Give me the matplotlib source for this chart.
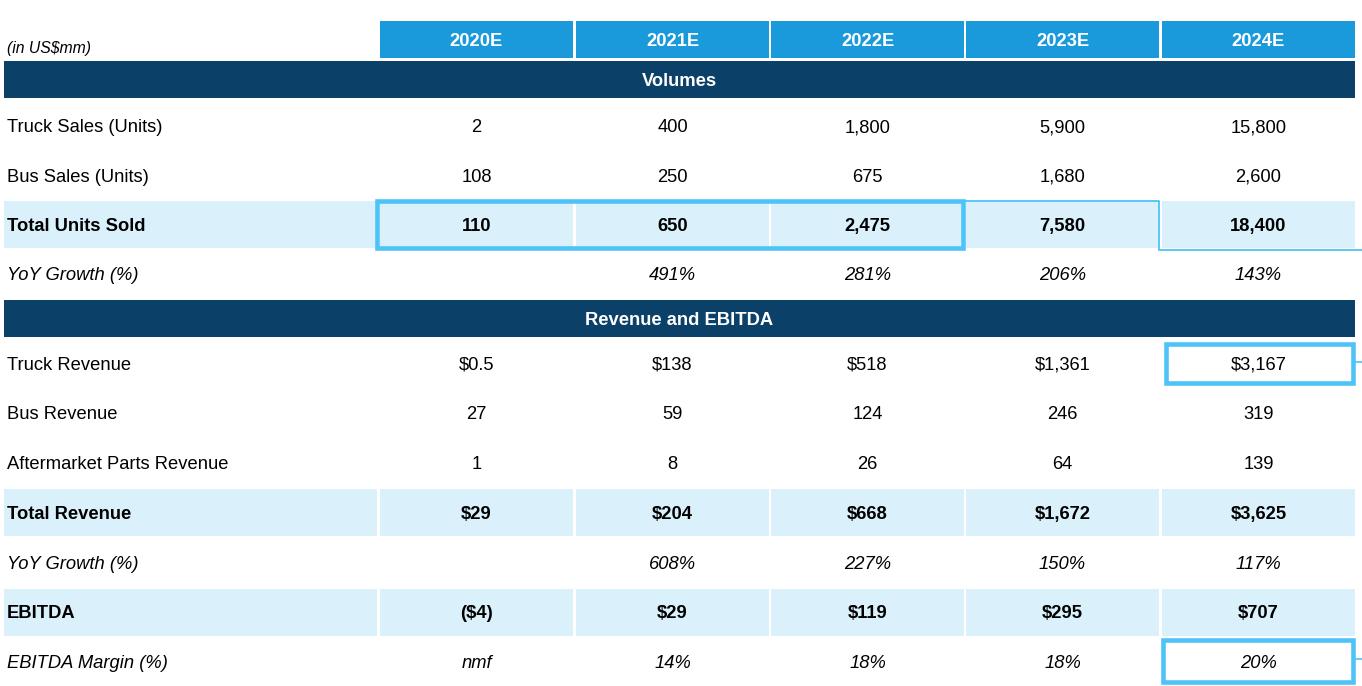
import matplotlib.pyplot as plt
from matplotlib.patches import Rectangle

plt.rcParams['font.family'] = ['Liberation Sans', 'DejaVu Sans']

# ---- data ----
years = ["2020E", "2021E", "2022E", "2023E", "2024E"]

truck_units = [2, 400, 1800, 5900, 15800]
bus_units = [108, 250, 675, 1680, 2600]
total_units = [110, 650, 2475, 7580, 18400]
units_growth = [None, 491, 281, 206, 143]

truck_rev = [0.5, 138, 518, 1361, 3167]
bus_rev = [27, 59, 124, 246, 319]
parts_rev = [1, 8, 26, 64, 139]
total_rev = [29, 204, 668, 1672, 3625]
rev_growth = [None, 608, 227, 150, 117]
ebitda = [-4, 29, 119, 295, 707]
ebitda_margin = [None, 14, 18, 18, 20]


def num(v):
    return f"{v:,.1f}" if v != int(v) else f"{int(v):,}"


def dollar(v):
    s = "$" + num(abs(v))
    return f"({s})" if v < 0 else s


def pct(v, empty=""):
    return empty if v is None else f"{v}%"


# (label, cells, style, band)
volumes = [
    ("Truck Sales (Units)", [num(v) for v in truck_units], "normal", False),
    ("Bus Sales (Units)", [num(v) for v in bus_units], "normal", False),
    ("Total Units Sold", [num(v) for v in total_units], "bold", True),
    ("YoY Growth (%)", [pct(v) for v in units_growth], "italic", False),
]
revenue = [
    ("Truck Revenue", [dollar(v) for v in truck_rev], "normal", False),
    ("Bus Revenue", [num(v) for v in bus_rev], "normal", False),
    ("Aftermarket Parts Revenue", [num(v) for v in parts_rev], "normal", False),
    ("Total Revenue", [dollar(v) for v in total_rev], "bold", True),
    ("YoY Growth (%)", [pct(v) for v in rev_growth], "italic", False),
    ("EBITDA", [dollar(v) for v in ebitda], "bold", True),
    ("EBITDA Margin (%)", [pct(v, "nmf") for v in ebitda_margin], "italic", False),
]

# ---- layout (pixels) ----
W, H = 1362, 686
HEAD_BLUE = "#1B9ADB"
DARK = "#0B4168"
LIGHT = "#DAF1FC"
HILITE = "#4DC3F7"
FS = 13.2

col_x = [380, 576, 771, 966, 1162]
col_w = 193
lab_x0, lab_x1 = 4, 377
right = 1355
half = 23.5

fig = plt.figure(figsize=(W / 100, H / 100), dpi=100)
ax = fig.add_axes([0, 0, 1, 1])
ax.set_xlim(0, W)
ax.set_ylim(H, 0)
ax.axis("off")


def txt(x, yc, s, style="normal", color="black", ha="center", size=FS):
    ax.text(x, yc + 6.5 * size / FS, s, ha=ha, va="baseline", fontsize=size,
            color=color, fontweight="bold" if style == "bold" else "normal",
            fontstyle="italic" if style == "italic" else "normal")


# header
txt(7, 47, "(in US$mm)", "italic", ha="left", size=11.3)
for x, yr in zip(col_x, years):
    ax.add_patch(Rectangle((x, 21), col_w, 37, color=HEAD_BLUE, lw=0))
    txt(x + col_w / 2, 39.5, yr, "bold", color="white")


def section(title, top, rows, y0, pitch):
    ax.add_patch(Rectangle((lab_x0, top), right - lab_x0, 37, color=DARK, lw=0))
    txt((lab_x0 + right) / 2, top + 18.5, title, "bold", color="white")
    centers = []
    for i, (label, cells, style, band) in enumerate(rows):
        yc = y0 + i * pitch
        centers.append(yc)
        if band:
            ax.add_patch(Rectangle((lab_x0, yc - half), lab_x1 - lab_x0, 2 * half,
                                   color=LIGHT, lw=0))
            for x in col_x:
                ax.add_patch(Rectangle((x, yc - half), min(col_w, right - x), 2 * half,
                                       color=LIGHT, lw=0))
        txt(7, yc, label, style, ha="left")
        for x, c in zip(col_x, cells):
            txt(x + col_w / 2, yc, c, style)
    return centers


vol_y = section("Volumes", 61, volumes, 126, 49.3)
rev_y = section("Revenue and EBITDA", 300, revenue, 363, 49.8)

# highlight boxes
yc = vol_y[2]
ax.add_patch(Rectangle((377, yc - half), 963 - 377, 2 * half, fill=False,
                       ec=HILITE, lw=3.3))
ax.plot([965, 1159, 1159, W], [yc - half, yc - half, yc + half + 1.5, yc + half + 1.5],
        color=HILITE, lw=1.3)

yc = rev_y[0]
ax.add_patch(Rectangle((1166, yc - 19.5), 1353 - 1166, 39, fill=False,
                       ec=HILITE, lw=3.3))
ax.plot([1355, W], [yc - 1, yc - 1], color=HILITE, lw=1.2)

yc = rev_y[6]
ax.add_patch(Rectangle((1163, yc - 21.5), 1353 - 1163, 42, fill=False,
                       ec=HILITE, lw=3.3))
ax.plot([1355, W], [yc - 3, yc - 3], color=HILITE, lw=1.2)

fig.savefig("out.png", dpi=100)
